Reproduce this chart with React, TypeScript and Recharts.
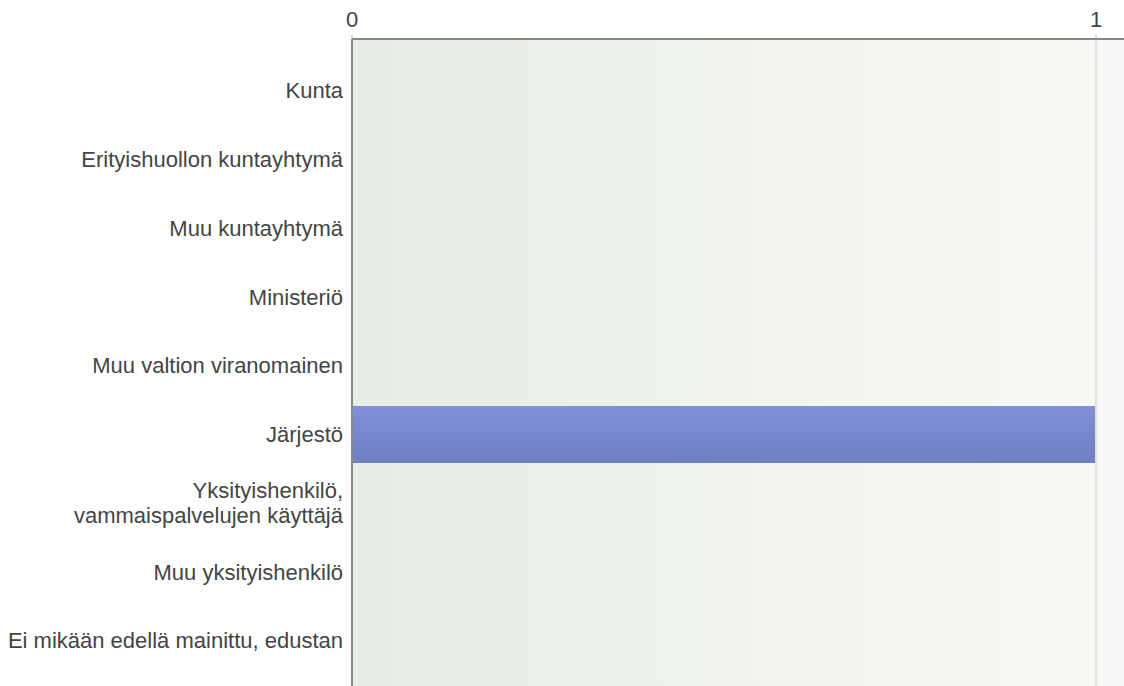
import { Bar, BarChart, CartesianGrid, ReferenceLine, XAxis, YAxis } from 'recharts';

const categories = [
  'Kunta',
  'Erityishuollon kuntayhtymä',
  'Muu kuntayhtymä',
  'Ministeriö',
  'Muu valtion viranomainen',
  'Järjestö',
  'Yksityishenkilö,\nvammaispalvelujen käyttäjä',
  'Muu yksityishenkilö',
  'Ei mikään edellä mainittu, edustan',
];
const counts = [0, 0, 0, 0, 0, 1, 0, 0, 0];
const xTicks = [0, 1];
const xMax = 1.0376;

const data = categories.map((name, i) => ({ name, count: counts[i] }));

const font = '"Liberation Sans", Arial, sans-serif';

const CategoryTick = ({ x, y, payload }: any) => {
  const lines = String(payload.value).split('\n');
  const lh = 25;
  const start = -((lines.length - 1) * lh) / 2;
  return (
    <text x={x} y={y} textAnchor="end" fill="#444" fontSize={22} fontFamily={font}>
      {lines.map((line, i) => (
        <tspan key={i} x={x} y={y + start + i * lh} dy="0.355em">
          {line}
        </tspan>
      ))}
    </text>
  );
};

export default function App() {
  return (
    <div style={{ position: 'absolute', left: 0, top: 0 }}>
      <BarChart
        width={1124}
        height={686}
        data={data}
        layout="vertical"
        margin={{ top: 0, right: 0, left: 0, bottom: 0 }}
        barCategoryGap={0}
      >
        <defs>
          <linearGradient id="bg" x1="0" y1="0" x2="1" y2="0">
            <stop offset="0%" stopColor="#e7ece4" />
            <stop offset="100%" stopColor="#f8f9f6" />
          </linearGradient>
          <linearGradient id="barFill" x1="0" y1="0" x2="0" y2="1">
            <stop offset="0%" stopColor="#8190d8" />
            <stop offset="100%" stopColor="#6f7fc1" />
          </linearGradient>
        </defs>
        <CartesianGrid horizontal={false} vertical={false} fill="url(#bg)" fillOpacity={1} />
        <ReferenceLine x={1} stroke="#e0e3e0" strokeWidth={2} />
        <XAxis
          type="number"
          orientation="top"
          domain={[0, xMax]}
          ticks={xTicks}
          height={39}
          axisLine={{ stroke: '#888', strokeWidth: 2 }}
          tickLine={{ stroke: '#aaa' }}
          tickSize={4}
          tickMargin={8}
          tick={{ fill: '#444', fontSize: 22, fontFamily: font }}
        />
        <YAxis
          type="category"
          dataKey="name"
          width={352}
          padding={{ top: 17, bottom: 11 }}
          axisLine={{ stroke: '#888', strokeWidth: 2 }}
          tickLine={false}
          tickSize={0}
          tickMargin={9}
          interval={0}
          tick={<CategoryTick />}
        />
        <Bar dataKey="count" fill="url(#barFill)" barSize={57} isAnimationActive={false} />
      </BarChart>
    </div>
  );
}
